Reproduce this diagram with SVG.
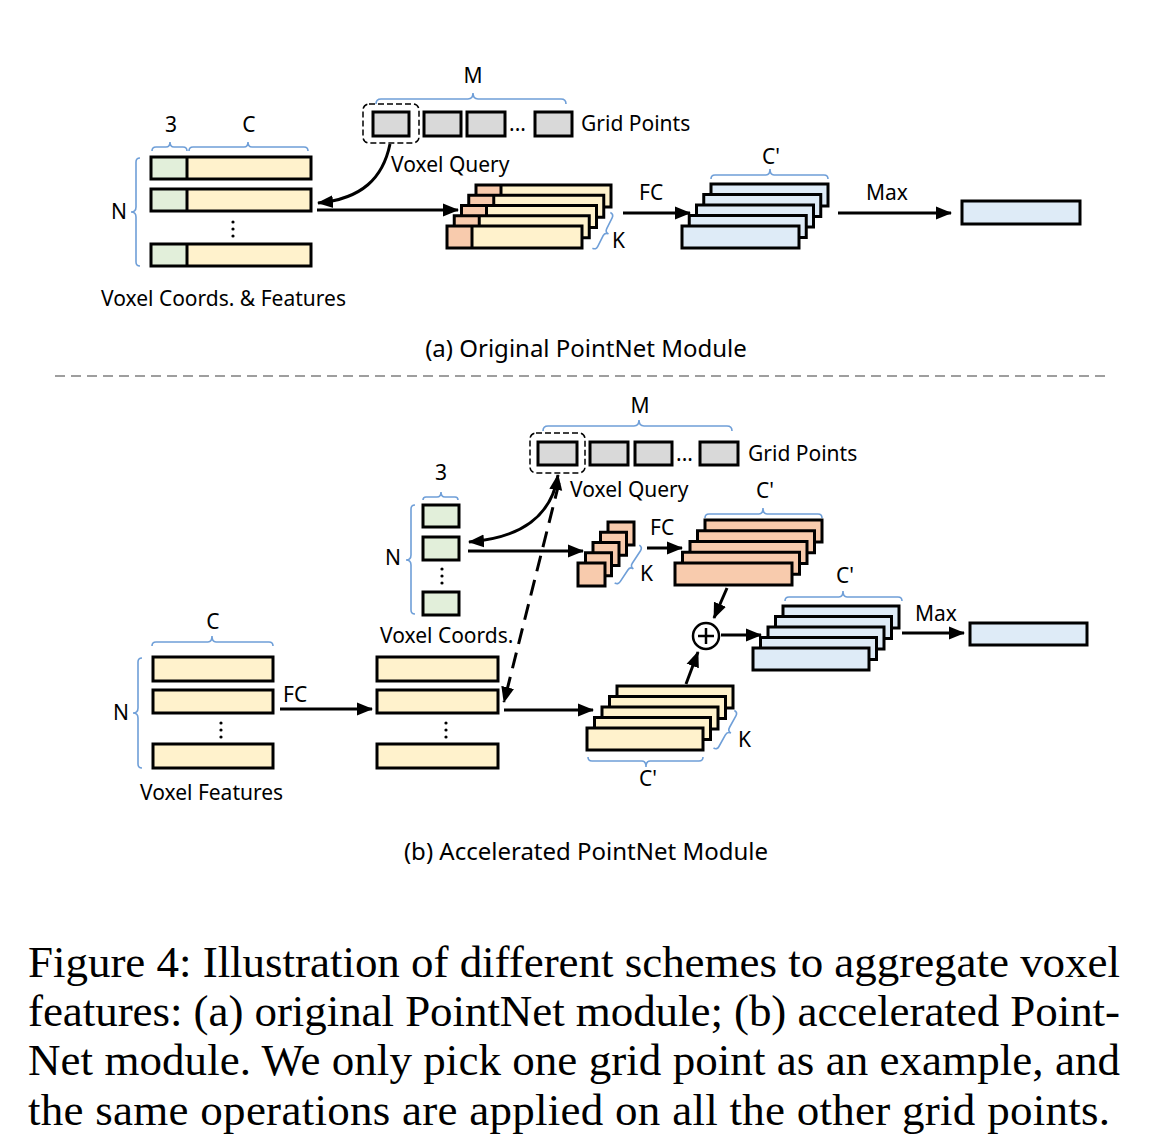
<svg xmlns="http://www.w3.org/2000/svg" width="1151" height="1144" viewBox="0 0 1151 1144">
<style>
.t{font-family:"Noto Sans","Open Sans","DejaVu Sans",sans-serif;font-size:21px;fill:#000}
.sub{font-size:24px}
.m{text-anchor:middle}
.cap{font-family:"Liberation Serif","Times New Roman",serif;font-size:45px;fill:#000}
.bx{stroke:#000;stroke-width:3}
.y{fill:#FFF2CC}.g{fill:#E2EFDA}.s{fill:#F8CBAD}.b{fill:#DEEBF7}.gr{fill:#D9D9D9}
.br{fill:none;stroke:#6F9FD8;stroke-width:1.6}
.ar{fill:none;stroke:#000;stroke-width:3;marker-end:url(#ah)}
.dbox{fill:none;stroke:#000;stroke-width:1.5;stroke-dasharray:6 3}
</style>
<defs>
<marker id="ah" markerUnits="userSpaceOnUse" markerWidth="17" markerHeight="15" refX="15" refY="7.5" orient="auto-start-reverse">
<path d="M0,1 L16,7.5 L0,14 z" fill="#000"/>
</marker>
</defs>
<rect width="1151" height="1144" fill="#fff"/>

<!-- (a) voxel coords & features -->
<g id="a-features">
<path class="br" d="M152,151 Q152,147 156,147 L166,147 Q170,147 170,142 Q170,147 174,147 L183,147 Q187,147 187,151"/>
<path class="br" d="M189,151 Q189,147 193,147 L244,147 Q248,147 248,142 Q248,147 252,147 L304,147 Q308,147 308,151"/>
<text class="t m" x="171" y="132">3</text>
<text class="t m" x="249" y="132">C</text>
<rect class="g" x="151" y="157" width="36" height="22"/><rect class="y" x="187" y="157" width="124" height="22"/>
<rect class="bx" x="151" y="157" width="160" height="22" fill="none"/><line class="bx" x1="187" y1="157" x2="187" y2="179"/>
<rect class="g" x="151" y="189" width="36" height="22"/><rect class="y" x="187" y="189" width="124" height="22"/>
<rect class="bx" x="151" y="189" width="160" height="22" fill="none"/><line class="bx" x1="187" y1="189" x2="187" y2="211"/>
<rect class="g" x="151" y="244" width="36" height="22"/><rect class="y" x="187" y="244" width="124" height="22"/>
<rect class="bx" x="151" y="244" width="160" height="22" fill="none"/><line class="bx" x1="187" y1="244" x2="187" y2="266"/>
<circle cx="233" cy="222" r="1.6"/><circle cx="233" cy="229" r="1.6"/><circle cx="233" cy="236" r="1.6"/>
<path class="br" d="M140,158 Q136,158 136,162 L136,207 Q136,212 131,212 Q136,212 136,217 L136,262 Q136,266 140,266"/>
<text class="t m" x="119" y="219">N</text>
<text class="t" x="101" y="306">Voxel Coords. &amp; Features</text>
</g>

<!-- (a) grid points -->
<g id="a-grid">
<path class="br" d="M376,104 Q376,99 381,99 L468,99 Q473,99 473,93 Q473,99 478,99 L561,99 Q566,99 566,104"/>
<text class="t m" x="473" y="83">M</text>
<rect class="dbox" x="363" y="104" width="56" height="39" rx="6"/>
<rect class="bx gr" x="373" y="112" width="36" height="24"/>
<rect class="bx gr" x="424" y="112" width="37" height="24"/>
<rect class="bx gr" x="467" y="112" width="38" height="24"/>
<text class="t" x="509" y="131">...</text>
<rect class="bx gr" x="535" y="112" width="37" height="24"/>
<text class="t" x="581" y="131">Grid Points</text>
<text class="t" x="391" y="172">Voxel Query</text>
</g>

<!-- (a) grouped stack -->
<g id="a-group">
<rect class="s" x="476" y="185" width="25" height="22"/><rect class="y" x="501" y="185" width="110" height="22"/><rect class="bx" x="476" y="185" width="135" height="22" fill="none"/><line class="bx" x1="501" y1="185" x2="501" y2="207"/>
<rect class="s" x="468.75" y="195.25" width="25" height="22"/><rect class="y" x="493.75" y="195.25" width="110" height="22"/><rect class="bx" x="468.75" y="195.25" width="135" height="22" fill="none"/><line class="bx" x1="493.75" y1="195.25" x2="493.75" y2="217.25"/>
<rect class="s" x="461.5" y="205.5" width="25" height="22"/><rect class="y" x="486.5" y="205.5" width="110" height="22"/><rect class="bx" x="461.5" y="205.5" width="135" height="22" fill="none"/><line class="bx" x1="486.5" y1="205.5" x2="486.5" y2="227.5"/>
<rect class="s" x="454.25" y="215.75" width="25" height="22"/><rect class="y" x="479.25" y="215.75" width="110" height="22"/><rect class="bx" x="454.25" y="215.75" width="135" height="22" fill="none"/><line class="bx" x1="479.25" y1="215.75" x2="479.25" y2="237.75"/>
<rect class="s" x="447" y="226" width="25" height="22"/><rect class="y" x="472" y="226" width="110" height="22"/><rect class="bx" x="447" y="226" width="135" height="22" fill="none"/><line class="bx" x1="472" y1="226" x2="472" y2="248"/>
<path class="br" transform="translate(596,250) rotate(-63.4)" d="M0,-4 Q0,0 4,0 L16,0 Q20,0 20,4 Q20,0 24,0 L36,0 Q40,0 40,-4"/>
<text class="t" x="612" y="248">K</text>
</g>

<!-- (a) FC output stack -->
<g id="a-fc">
<rect class="bx b" x="711" y="184" width="117" height="22"/>
<rect class="bx b" x="703.75" y="194.5" width="117" height="22"/>
<rect class="bx b" x="696.5" y="205" width="117" height="22"/>
<rect class="bx b" x="689.25" y="215.5" width="117" height="22"/>
<rect class="bx b" x="682" y="226" width="117" height="22"/>
<path class="br" d="M711,179 Q711,175 715,175 L766,175 Q770,175 770,169 Q770,175 774,175 L824,175 Q828,175 828,179"/>
<text class="t m" x="771" y="164">C'</text>
</g>

<g id="a-out">
<rect class="bx b" x="962" y="201" width="118" height="23"/>
</g>

<g id="a-connectors">
<path class="ar" d="M390,144 C383,178 362,199 318,203"/>
<path class="ar" d="M317,210 L458,210"/>
<path class="ar" d="M623,213 L690,213"/>
<text class="t" x="639" y="200">FC</text>
<path class="ar" d="M838,213 L951,213"/>
<text class="t" x="866" y="200">Max</text>
</g>

<text class="t sub m" x="586" y="357">(a) Original PointNet Module</text>
<line x1="55" y1="376" x2="1105" y2="376" stroke="#7f7f7f" stroke-width="1.5" stroke-dasharray="10 6"/>

<!-- (b) grid points -->
<g id="b-grid">
<path class="br" d="M543,431 Q543,426 548,426 L634,426 Q639,426 639,420 Q639,426 644,426 L727,426 Q732,426 732,431"/>
<text class="t m" x="640" y="413">M</text>
<rect class="dbox" x="530" y="433" width="55" height="40" rx="6"/>
<rect class="bx gr" x="538" y="442" width="39" height="23"/>
<rect class="bx gr" x="590" y="442" width="38" height="23"/>
<rect class="bx gr" x="635" y="442" width="37" height="23"/>
<text class="t" x="676" y="461">...</text>
<rect class="bx gr" x="700" y="442" width="38" height="23"/>
<text class="t" x="748" y="461">Grid Points</text>
<text class="t" x="570" y="497">Voxel Query</text>
</g>

<!-- (b) voxel coords -->
<g id="b-coords">
<text class="t m" x="441" y="480">3</text>
<path class="br" d="M423,500 Q423,497 426,497 L437,497 Q441,497 441,492 Q441,497 445,497 L455,497 Q458,497 458,500"/>
<rect class="bx g" x="423" y="505" width="36" height="22"/>
<rect class="bx g" x="423" y="537" width="36" height="23"/>
<rect class="bx g" x="423" y="592" width="36" height="23"/>
<circle cx="442" cy="569" r="1.6"/><circle cx="442" cy="576" r="1.6"/><circle cx="442" cy="583" r="1.6"/>
<path class="br" d="M415,505 Q411,505 411,509 L411,555 Q411,560 406,560 Q411,560 411,565 L411,610 Q411,614 415,614"/>
<text class="t m" x="393" y="565">N</text>
<text class="t" x="380" y="643">Voxel Coords.</text>
</g>

<!-- (b) small grouped coords -->
<g id="b-group">
<rect class="bx s" x="608" y="522" width="26" height="23"/>
<rect class="bx s" x="600.5" y="532.25" width="26" height="23"/>
<rect class="bx s" x="593" y="542.5" width="26" height="23"/>
<rect class="bx s" x="585.5" y="552.75" width="26" height="23"/>
<rect class="bx s" x="578" y="563" width="27" height="23"/>
<path class="br" transform="translate(618,585) rotate(-56.7)" d="M0,-4 Q0,0 4,0 L18,0 Q22,0 22,4 Q22,0 26,0 L41,0 Q45,0 45,-4"/>
<text class="t" x="640" y="581">K</text>
</g>

<!-- (b) FC of coords -->
<g id="b-coordfc">
<rect class="bx s" x="705" y="520" width="117" height="22"/>
<rect class="bx s" x="697.5" y="530.75" width="117" height="22"/>
<rect class="bx s" x="690" y="541.5" width="117" height="22"/>
<rect class="bx s" x="682.5" y="552.25" width="117" height="22"/>
<rect class="bx s" x="675" y="563" width="117" height="22"/>
<path class="br" d="M705,518 Q705,514 709,514 L759,514 Q763,514 763,508 Q763,514 767,514 L818,514 Q822,514 822,518"/>
<text class="t m" x="765" y="498">C'</text>
</g>

<!-- (b) sum -->
<g id="b-sum">
<circle cx="706" cy="636" r="13" fill="#fff" stroke="#000" stroke-width="2.5"/>
<line x1="698" y1="636" x2="714" y2="636" stroke="#000" stroke-width="2.5"/>
<line x1="706" y1="628" x2="706" y2="644" stroke="#000" stroke-width="2.5"/>
</g>

<!-- (b) blue stack -->
<g id="b-fc">
<rect class="bx b" x="783" y="606" width="116" height="22"/>
<rect class="bx b" x="775.5" y="616.5" width="116" height="22"/>
<rect class="bx b" x="768" y="627" width="116" height="22"/>
<rect class="bx b" x="760.5" y="637.5" width="116" height="22"/>
<rect class="bx b" x="753" y="648" width="116" height="22"/>
<path class="br" d="M785,601 Q785,597 789,597 L839,597 Q843,597 843,591 Q843,597 847,597 L898,597 Q902,597 902,601"/>
<text class="t m" x="845" y="583">C'</text>
</g>

<g id="b-out">
<rect class="bx b" x="970" y="623" width="117" height="22"/>
</g>

<!-- (b) voxel features -->
<g id="b-features">
<text class="t m" x="213" y="629">C</text>
<path class="br" d="M152,646 Q152,642 156,642 L208,642 Q212,642 212,636 Q212,642 216,642 L269,642 Q273,642 273,646"/>
<rect class="bx y" x="153" y="657" width="120" height="24"/>
<rect class="bx y" x="153" y="690" width="120" height="23"/>
<rect class="bx y" x="153" y="744" width="120" height="24"/>
<circle cx="221" cy="723" r="1.6"/><circle cx="221" cy="730" r="1.6"/><circle cx="221" cy="737" r="1.6"/>
<path class="br" d="M142,658 Q138,658 138,662 L138,708 Q138,713 133,713 Q138,713 138,718 L138,764 Q138,768 142,768"/>
<text class="t m" x="121" y="720">N</text>
<text class="t" x="140" y="800">Voxel Features</text>
</g>

<g id="b-features-fc">
<rect class="bx y" x="377" y="657" width="121" height="24"/>
<rect class="bx y" x="377" y="690" width="121" height="23"/>
<rect class="bx y" x="377" y="744" width="121" height="24"/>
<circle cx="446" cy="723" r="1.6"/><circle cx="446" cy="730" r="1.6"/><circle cx="446" cy="737" r="1.6"/>
</g>

<!-- (b) grouped features -->
<g id="b-featgroup">
<rect class="bx y" x="617" y="686" width="116" height="22"/>
<rect class="bx y" x="609.5" y="696.5" width="116" height="22"/>
<rect class="bx y" x="602" y="707" width="116" height="22"/>
<rect class="bx y" x="594.5" y="717.5" width="116" height="22"/>
<rect class="bx y" x="587" y="728" width="116" height="22"/>
<path class="br" transform="translate(717,750) rotate(-61)" d="M0,-4 Q0,0 4,0 L17,0 Q21.5,0 21.5,4 Q21.5,0 26,0 L39,0 Q43,0 43,-4"/>
<text class="t" x="738" y="747">K</text>
<path class="br" d="M588,757 Q588,761 592,761 L642,761 Q646,761 646,767 Q646,761 650,761 L699,761 Q703,761 703,757"/>
<text class="t m" x="648" y="786">C'</text>
</g>

<g id="b-connectors">
<path class="ar" style="marker-start:url(#ah)" d="M558,475 C552,515 522,538 469,542"/>
<path class="ar" d="M468,551 L583,551"/>
<path class="ar" d="M647,548 L682,548"/>
<text class="t" x="650" y="535">FC</text>
<path class="ar" d="M727,588 L714,618"/>
<path class="ar" d="M686,684 L698,652"/>
<path class="ar" d="M721,635 L761,635"/>
<path class="ar" d="M902,633 L964,633"/>
<text class="t" x="915" y="621">Max</text>
<path class="ar" d="M280,709 L372,709"/>
<text class="t" x="283" y="702">FC</text>
<path class="ar" style="stroke-dasharray:16 9" d="M559,483 L504,702"/>
<path class="ar" d="M504,710 L593,710"/>
</g>

<text class="t sub m" x="586" y="860">(b) Accelerated PointNet Module</text>

<g id="caption">
<text class="cap" x="28" y="977" textLength="1092" lengthAdjust="spacing">Figure 4: Illustration of different schemes to aggregate voxel</text>
<text class="cap" x="28" y="1026" textLength="1092" lengthAdjust="spacing">features: (a) original PointNet module; (b) accelerated Point-</text>
<text class="cap" x="28" y="1075" textLength="1092" lengthAdjust="spacing">Net module. We only pick one grid point as an example, and</text>
<text class="cap" x="28" y="1125" textLength="1082" lengthAdjust="spacing">the same operations are applied on all the other grid points.</text>
</g>
</svg>
